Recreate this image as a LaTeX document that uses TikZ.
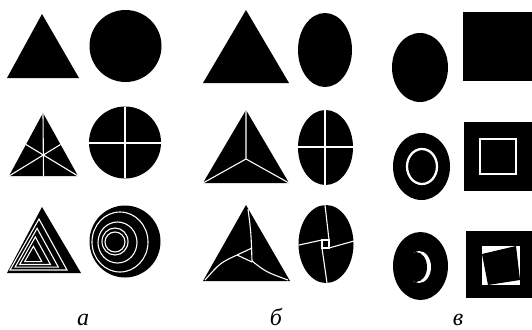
\documentclass[tikz,border=0pt]{standalone}
\usepackage{fontspec}
\setmainfont{Liberation Serif}
\usetikzlibrary{calc}

\begin{document}
\begin{tikzpicture}[x=1pt,y=-1pt,
  cut/.style={white,line width=1.1pt},
  ring/.style={white,line width=2.3pt},
  lbl/.style={anchor=base,inner sep=0pt,font=\fontsize{24}{28}\selectfont\itshape}]
  \useasboundingbox (0,0) rectangle (532,329);
  % column a
  \fill (42,14)--(79,78)--(7,78)--cycle;
  \fill (125.5,46) ellipse [x radius=36,y radius=36];
  \fill (43,113)--(78,176)--(9,176)--cycle;
  \draw[cut] (43,113)--(43.5,176);
  \draw[cut] (9,176)--(60.5,144.5);
  \draw[cut] (78,176)--(26,144.5);
  \fill (125,142.5) ellipse [x radius=36,y radius=36];
  \draw[cut] (89,143)--(161,143);
  \draw[cut] (125,107)--(125,178);
  \fill (42,207)--(81,273)--(7,273)--cycle;
  \foreach \k in {1,0.76,0.54,0.3}
    \draw[cut] ($(31,258)+\k*(-21,12)$)--($(31,258)+\k*(8,-39)$)--($(31,258)+\k*(36,12)$)--cycle;
  \fill (125,241.5) ellipse [x radius=35.5,y radius=36];
  \draw[cut] (120,242) ellipse [x radius=28,y radius=30];
  \draw[cut] (117.5,242.5) ellipse [x radius=19.5,y radius=20.5];
  \draw[cut] (115,241.5) ellipse [x radius=13,y radius=13.5];
  \draw[cut] (115,242) ellipse [x radius=10,y radius=10];
  % column b
  \fill (246,10)--(289,83)--(203,83)--cycle;
  \fill (325,50) ellipse [x radius=27,y radius=37];
  \fill (246,110)--(289,183)--(203,183)--cycle;
  \draw[cut] (246,110)--(246,159)--(203,183);
  \draw[cut] (246,159)--(289,183);
  \fill (325.5,147.5) ellipse [x radius=27.5,y radius=37.5];
  \draw[cut] (298,147)--(353,147);
  \draw[cut] (325,110)--(325,185);
  \fill (246,205)--(290,281)--(203,281)--cycle;
  \draw[cut] (248,209) .. controls (251,232) .. (252,261) .. controls (266,272) .. (288,280);
  \draw[cut] (252,248)--(237,255) .. controls (220,263) .. (205,280);
  \draw[cut] (237,255)--(252,262);
  \fill (326,244) ellipse [x radius=27.5,y radius=39];
  \draw[cut] (322,240) rectangle (329,248);
  \draw[cut] (325,205)--(329,240);
  \draw[cut] (329,248)--(354,241);
  \draw[cut] (322,248)--(327,283);
  \draw[cut] (299,245)--(322,240);
  % column c
  \fill (420,67.5) ellipse [x radius=28,y radius=34.5];
  \fill (463,12) rectangle (532,81);
  \fill (421.5,166.5) ellipse [x radius=28.5,y radius=33.5];
  \draw[ring] (422,166.5) ellipse [x radius=15,y radius=17.5];
  \fill (464,122) rectangle (532,191);
  \draw[ring] (480,139) rectangle (516,174);
  \fill (420.5,266) ellipse [x radius=27.5,y radius=34];
  \fill[white] (419,267) ellipse [x radius=12,y radius=16];
  \fill (416,267) ellipse [x radius=11,y radius=15];
  \fill (466,231) rectangle (532,298);
  \fill[white] (482,246) rectangle (520,285);
  \fill (482,254)--(516,246)--(520,280)--(488,285)--cycle;
  % labels
  \node[lbl] (la) at (83,325) {а};
  \node[lbl] (lb) at (276,325) {б};
  \node[lbl] (lc) at (458,325) {в};
\end{tikzpicture}
\end{document}
